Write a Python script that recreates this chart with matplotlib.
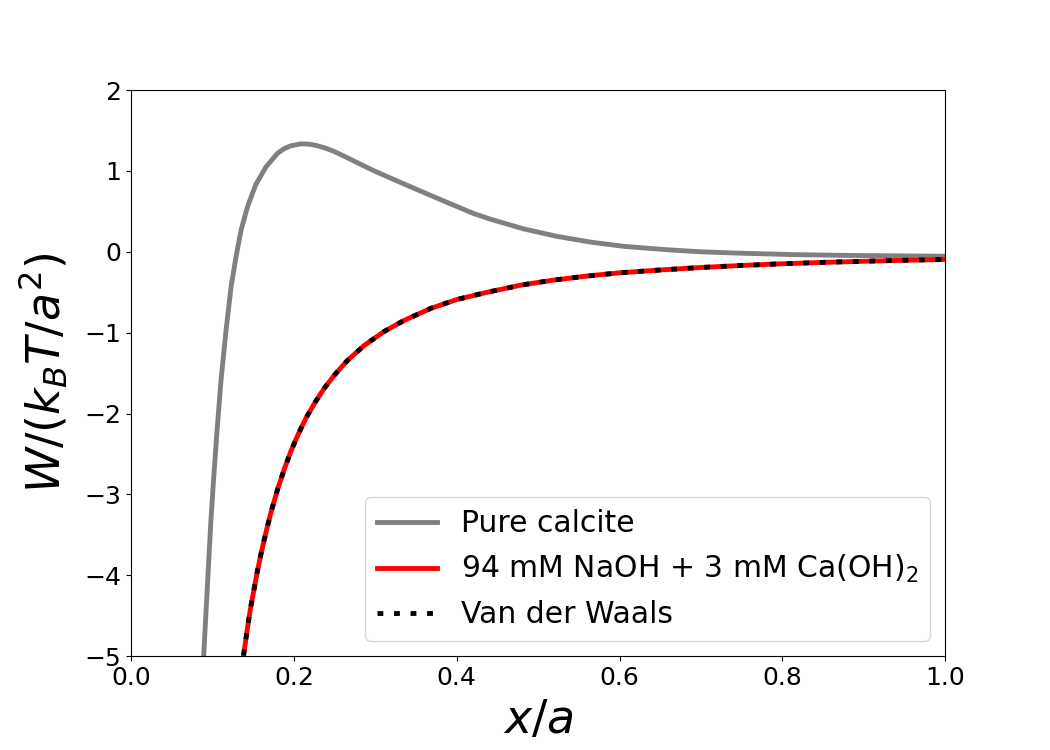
import numpy as np
import matplotlib
matplotlib.use("Agg")
import matplotlib.pyplot as plt

# values
x_pure = [0.089, 0.094, 0.098, 0.1015, 0.1055, 0.1104, 0.1166, 0.1227,
          0.1288, 0.135, 0.143, 0.153, 0.1656, 0.180, 0.188, 0.196,
          0.2086, 0.219, 0.229, 0.239, 0.2495, 0.262, 0.274, 0.2985, 0.3394,
          0.380, 0.421, 0.4417, 0.4826, 0.5235, 0.5644, 0.6053, 0.6585,
          0.700, 0.750, 0.814, 0.880, 0.940, 1.0]
w_pure = [-5.0, -4.05, -3.30, -2.77, -2.20, -1.58, -0.96, -0.43,
          -0.06, 0.27, 0.56, 0.83, 1.05, 1.22, 1.275, 1.31,
          1.335, 1.33, 1.31, 1.28, 1.24, 1.18, 1.12, 1.00, 0.82,
          0.645, 0.472, 0.402, 0.282, 0.19, 0.12, 0.067, 0.025,
          0.0, -0.018, -0.035, -0.045, -0.05, -0.055]

x_salt = [0.138, 0.142, 0.146, 0.150, 0.155, 0.160, 0.166, 0.172, 0.180,
          0.188, 0.196, 0.205, 0.215, 0.226, 0.237, 0.250, 0.265, 0.286,
          0.310, 0.335, 0.368, 0.400, 0.4376, 0.480, 0.519, 0.560, 0.600,
          0.650, 0.700, 0.750, 0.800, 0.850, 0.900, 0.950, 1.0]
w_salt = [-4.99, -4.71, -4.44, -4.22, -3.95, -3.71, -3.45, -3.21, -2.93,
          -2.69, -2.47, -2.26, -2.05, -1.86, -1.69, -1.52, -1.35, -1.16,
          -0.99, -0.85, -0.70, -0.59, -0.50, -0.41, -0.35, -0.30, -0.26,
          -0.225, -0.194, -0.169, -0.148, -0.131, -0.117, -0.105, -0.095]

x_vdw = x_salt
w_vdw = w_salt

labels = ["Pure calcite", r"94 mM NaOH + 3 mM Ca(OH)$_2$", "Van der Waals"]

fig, ax = plt.subplots(figsize=(10.5, 7.5), dpi=100)
fig.subplots_adjust(left=0.125, right=0.9, top=0.88, bottom=0.125)

ax.plot(x_pure, w_pure, color="gray", lw=3.5, label=labels[0])
ax.plot(x_salt, w_salt, color="red", lw=3.5, label=labels[1])
ax.plot(x_vdw, w_vdw, color="black", lw=3.5, ls=(0, (1.2, 2.2)), label=labels[2])

ax.set_xlim(0, 1)
ax.set_ylim(-5, 2)
ax.set_xticks([0.0, 0.2, 0.4, 0.6, 0.8, 1.0])
ax.set_yticks([-5, -4, -3, -2, -1, 0, 1, 2])
ax.tick_params(labelsize=18)
ax.set_xlabel(r"$x/a$", fontsize=33, labelpad=6)
ax.set_ylabel(r"$W/(k_BT/a^2)$", fontsize=33, labelpad=10)
ax.legend(loc="lower right", fontsize=21.5)

fig.savefig("out.png")
